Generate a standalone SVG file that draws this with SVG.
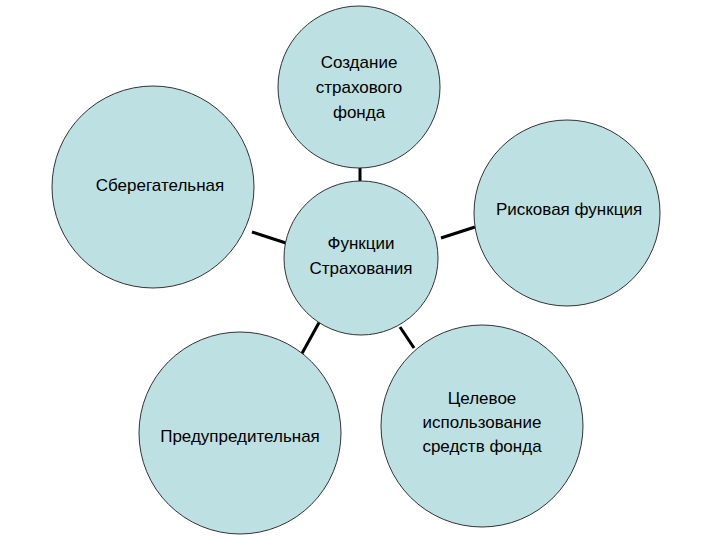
<svg xmlns="http://www.w3.org/2000/svg" width="720" height="540" viewBox="0 0 720 540">
<style>
.n{fill:#bde0e2;stroke:#333;stroke-width:1}
.t{font-family:"Liberation Sans",Arial,sans-serif;font-size:17px;fill:#000;text-anchor:middle}
.c line{stroke:#000;stroke-width:3}
</style>
<rect width="720" height="540" fill="#fff"/>
<g class="c" id="connectors">
<line x1="360" y1="165" x2="360" y2="181"/>
<line x1="252" y1="232" x2="289" y2="244"/>
<line x1="441" y1="238" x2="475" y2="227"/>
<line x1="321" y1="319" x2="300" y2="357"/>
<line x1="400" y1="327" x2="414" y2="348"/>
</g>
<g id="top"><circle class="n" cx="359" cy="87" r="81"/>
<text class="t" x="359" y="68">Создание</text><text class="t" x="359" y="93">страхового</text><text class="t" x="359" y="118">фонда</text></g>
<g id="left"><circle class="n" cx="153" cy="187" r="101"/>
<text class="t" x="160" y="191">Сберегательная</text></g>
<g id="right"><circle class="n" cx="567" cy="213" r="93"/>
<text class="t" x="569" y="215">Рисковая функция</text></g>
<g id="center"><circle class="n" cx="361" cy="258" r="77"/>
<text class="t" x="361" y="249">Функции</text><text class="t" x="361" y="274">Страхования</text></g>
<g id="bl"><circle class="n" cx="240" cy="433" r="101"/>
<text class="t" x="240" y="442">Предупредительная</text></g>
<g id="br"><circle class="n" cx="482" cy="426" r="101"/>
<text class="t" x="482" y="404">Целевое</text><text class="t" x="482" y="428">использование</text><text class="t" x="482" y="452">средств фонда</text></g>
</svg>
